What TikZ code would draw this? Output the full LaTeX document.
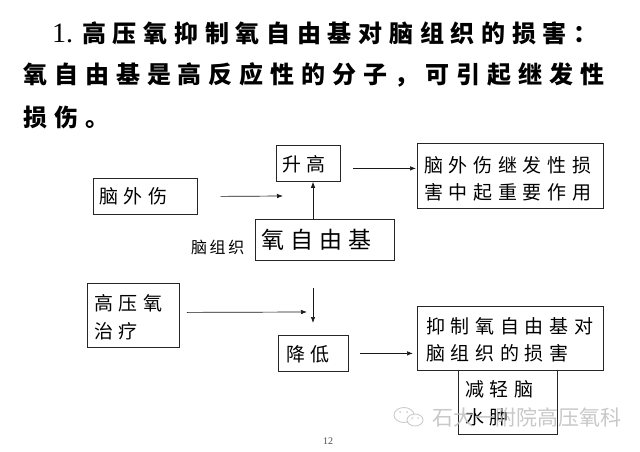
\documentclass[tikz,border=0pt]{standalone}
\usepackage{fontspec}
\setmainfont{Liberation Serif}
\newfontfamily\cjk{Noto Sans CJK SC}
\newfontfamily\cjkTa[LetterSpace=28]{Noto Sans CJK SC}
\newfontfamily\cjkTb[LetterSpace=29]{Noto Sans CJK SC}
\newfontfamily\cjkB[LetterSpace=30]{Noto Sans CJK SC}
\newfontfamily\cjkC[LetterSpace=26]{Noto Sans CJK SC}
\newfontfamily\cjkD[LetterSpace=16]{Noto Sans CJK SC}
\usetikzlibrary{arrows.meta}
\begin{document}
\begin{tikzpicture}[x=1pt,y=-1pt,
  box/.style={draw=black!85, line width=0.8pt, inner sep=0pt, anchor=north west},
  lbl/.style={anchor=west, inner sep=0pt, font=\cjkB\fontsize{19}{22}\selectfont},
  ttl/.style={anchor=west, inner sep=0pt},
  arr/.style={line width=0.7pt, draw=black!90, -{Latex[length=6pt,width=4.5pt]}},
]
\useasboundingbox[fill=white] (0,0) rectangle (640,452);

% title
\node[ttl, font=\fontsize{28}{30}\selectfont] (t0) at (52,33) {1.};
\node[ttl, font=\cjkTa\bfseries\fontsize{24}{28}\selectfont] (t1) at (82,33) {高压氧抑制氧自由基对脑组织的损害：};
\node[ttl, font=\cjkTb\bfseries\fontsize{24}{28}\selectfont] (t2) at (23,75) {氧自由基是高反应性的分子，可引起继发性};
\node[ttl, font=\cjkTb\bfseries\fontsize{24}{28}\selectfont] (t3) at (23,117) {损伤。};

% boxes
\node[box, minimum width=104pt, minimum height=36pt] (wai) at (92.7,178) {};
\node[box, minimum width=64.3pt, minimum height=36pt] (sheng) at (275.7,145) {};
\node[box, minimum width=139pt, minimum height=41pt] (qi) at (255,219) {};
\node[box, minimum width=186pt, minimum height=65pt] (r1) at (417,143) {};
\node[box, minimum width=92pt, minimum height=64pt] (hbo) at (87,283) {};
\node[box, minimum width=70pt, minimum height=36pt] (jiang) at (278,335) {};
\node[box, minimum width=186pt, minimum height=64pt] (r2) at (417,306) {};
\node[box, minimum width=99pt, minimum height=64pt] (jq) at (458,370) {};

% texts
\node[lbl] (x1) at (99,196) {脑外伤};
\node[lbl] (x2) at (282,164) {升高};
\node[lbl, font=\cjkC\fontsize{23}{26}\selectfont] (x3) at (261.5,240) {氧自由基};
\node[lbl, font=\cjkD\fontsize{16}{18}\selectfont] (x4) at (191,247) {脑组织};
\node[lbl] (x5) at (424,165) {脑外伤继发性损};
\node[lbl] (x6) at (424,192) {害中起重要作用};
\node[lbl] (x7) at (94,303) {高压氧};
\node[lbl] (x8) at (94,331) {治疗};
\node[lbl] (x9) at (286,354) {降低};
\node[lbl] (x10) at (426,326) {抑制氧自由基对};
\node[lbl] (x11) at (426,353) {脑组织的损害};
\node[lbl] (x12) at (465,389) {减轻脑};
\node[lbl] (x13) at (465,417) {水肿};

% connectors
\coordinate (vx) at (313,0);
\coordinate (a1e) at (283,196);
\coordinate (a4e) at (307,312);
\coordinate (a5s) at (313,288);
\draw[arr] ([xshift=23pt]wai.east) -- (a1e);
\draw[arr] (qi.north -| vx) -- (sheng.south -| vx);
\draw[arr, shorten >=13pt] ([xshift=12pt,yshift=-5pt]sheng.east) -- ([xshift=12pt,yshift=-5pt]sheng.east -| r1.west);
\draw[arr] ([xshift=7pt,yshift=3pt]hbo.east) -- (a4e);
\draw[arr] (a5s) -- ([yshift=12pt]jiang.north -| vx);
\draw[arr, shorten >=4pt] ([xshift=11pt]jiang.east) -- (jiang.east -| r2.west);

% page number
\node[inner sep=0pt, font=\fontsize{10}{12}\selectfont, text=black!70] (pg) at (328,441) {12};

% watermark
\begin{scope}[draw=black!25, line width=0.9pt, opacity=0.8]
  \draw (404,415) ellipse [x radius=10pt, y radius=7.5pt];
  \draw[fill=white] (415,420) ellipse [x radius=8pt, y radius=6pt];
  \fill[black!25] (400,412) circle (1pt) (407,412) circle (1pt) (412,418) circle (0.9pt) (418,418) circle (0.9pt);
\end{scope}
\node[ttl, font=\cjk\fontsize{21}{23}\selectfont, text=black!25, opacity=0.85] (wm) at (432,417) {石大一附院高压氧科};
\end{tikzpicture}
\end{document}
